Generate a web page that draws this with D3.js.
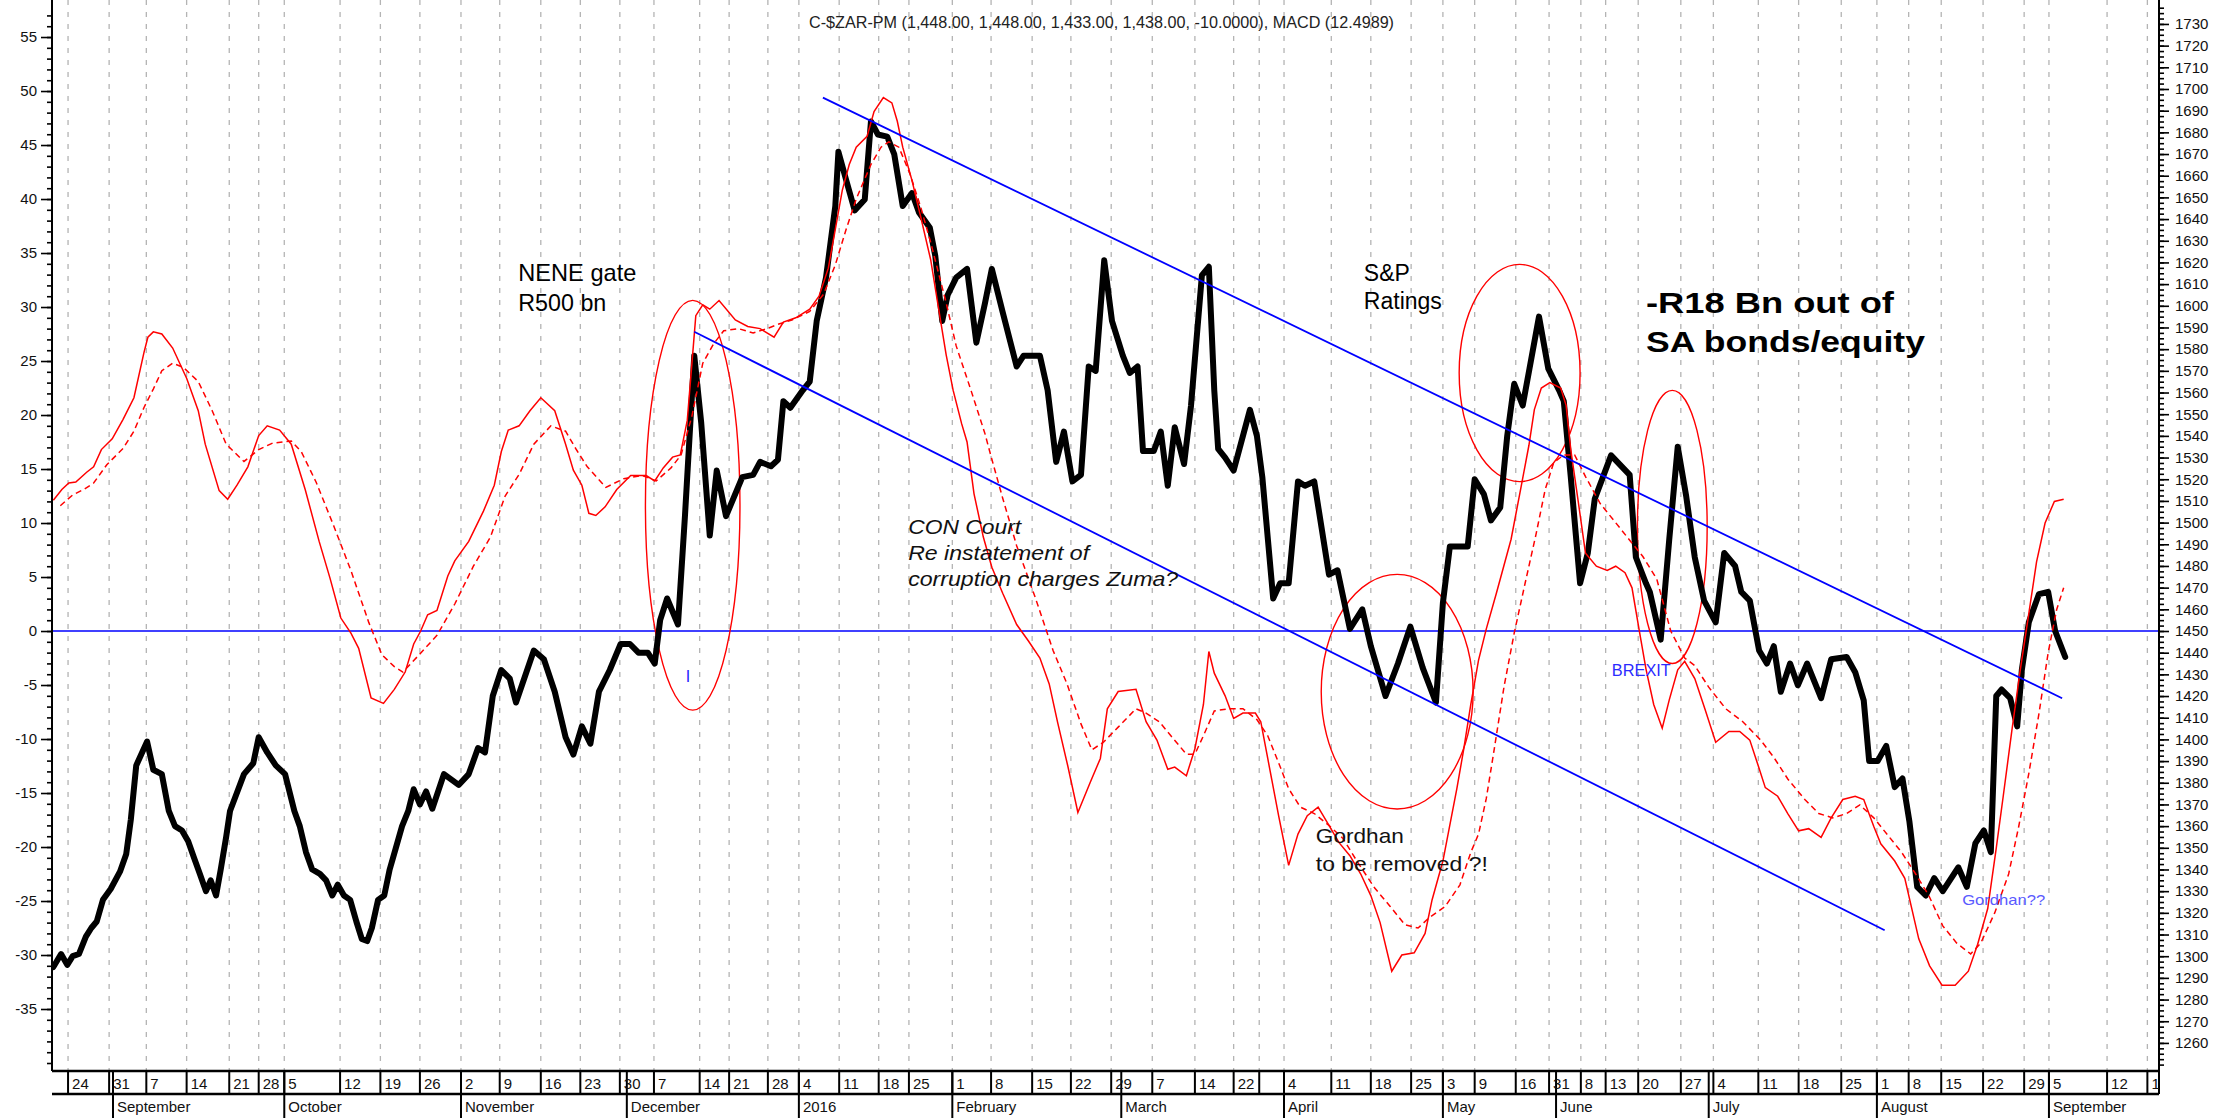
<!DOCTYPE html>
<html>
<head>
<meta charset="utf-8">
<script src="https://cdn.jsdelivr.net/npm/d3@7"></script>
<style>
  html, body { margin: 0; padding: 0; background: #fff; }
  svg { display: block; font-family: "Liberation Sans", Arial, sans-serif; }
</style>
</head>
<body>
<div id="chart"></div>
<script>
// ---- data (x = trading-bar index) ----

const weekLabels = ["24","31","7","14","21","28","5","12","19","26","2","9","16","23","30","7","14","21","28",
  "4","11","18","25","1","8","15","22","29","7","14","22","","4","11","18","25","3","9","16","31",
  "8","13","20","27","4","11","18","25","1","8","15","22","29","5","12","19"];
const weekBars = [2.2,7.5,12.3,17.5,23.0,26.8,30.1,37.3,42.5,47.6,52.9,57.9,63.2,68.3,73.4,77.8,83.7,87.5,92.5,
  96.5,101.7,106.8,110.7,116.3,121.3,126.6,131.6,136.8,142.1,147.6,152.6,155.9,159.1,165.2,170.3,175.5,179.6,183.7,189.0,193.3,
  197.4,200.6,204.8,210.3,214.5,220.3,225.5,231.0,235.6,239.7,243.9,249.3,254.6,257.8,265.3,270.5];

const monthLabels = ["September","October","November","December","2016","February","March","April","May","June","July","August","September"];
const monthBars = [8.0,30.1,52.9,74.3,96.5,116.3,138.1,159.1,179.6,194.2,213.9,235.6,257.8];

const macdTicks = d3.range(-35, 56, 5);
const priceTicks = d3.range(1260, 1731, 10);

// C-$ZAR-PM close (right axis)
const zarBars = [0.3,1.3,2.1,2.8,3.6,4.5,5.2,5.9,6.7,7.7,8.9,9.7,10.3,11.0,12.4,13.2,14.3,15.2,16.0,16.9,17.7,18.5,19.2,20.0,20.6,21.3,21.9,22.6,23.1,24.9,
  26.1,26.8,27.9,29.0,30.2,31.4,32.1,32.9,33.7,34.7,35.5,36.3,37.0,37.8,38.6,39.4,40.1,40.8,41.4,42.2,43.0,43.7,44.5,45.3,46.1,46.8,47.6,48.4,49.2,50.7,
  52.6,53.9,55.1,56.0,57.0,58.1,59.2,60.0,62.3,63.6,65.0,66.4,67.4,68.5,69.6,70.7,72.1,73.5,74.7,75.8,77.0,77.9,78.6,79.5,80.9,81.8,83.0,83.9,85.0,85.9,
  87.1,89.2,90.6,91.5,92.9,93.8,94.5,95.4,97.0,97.9,98.8,100.0,101.2,101.6,102.6,103.7,105.0,105.8,106.7,107.9,108.8,109.9,111.1,112.0,113.4,114.1,115.0,115.7,116.8,118.2,
  119.4,120.5,121.4,122.8,124.6,125.5,127.6,128.6,129.7,130.7,131.8,132.9,133.9,134.8,135.9,136.9,138.3,139.2,140.2,140.9,142.3,143.2,144.1,145.0,146.2,147.1,148.5,149.4,150.1,150.6,
  151.5,152.6,154.7,155.6,156.3,157.7,158.6,159.7,160.9,161.8,163.0,164.9,166.0,167.6,169.2,170.3,172.2,173.8,175.4,177.0,178.7,179.6,180.5,182.8,183.7,184.9,185.8,187.0,187.9,188.8,
  189.9,192.0,193.2,194.6,195.2,196.1,197.3,198.3,199.2,201.3,203.7,204.5,205.8,206.3,207.7,208.8,209.9,211.0,212.1,213.3,214.8,215.9,217.3,218.1,219.2,220.4,221.4,222.3,223.2,224.4,
  225.4,226.6,228.4,229.7,231.7,232.8,233.9,234.6,235.7,236.8,237.9,238.9,239.8,240.8,241.9,243.0,244.1,246.1,247.2,248.3,249.4,250.3,251.0,251.7,252.8,253.7,254.3,255.2,256.5,257.7,
  258.6,259.9];
const zarClose = [1295,1301,1296,1300,1301,1309,1313,1316,1326,1331,1339,1347,1363,1388,1399,1386,1384,1367,1360,1358,1353,1345,1338,1330,1335,1328,1340,1355,1367,1384,
  1389,1401,1394,1388,1384,1367,1360,1348,1340,1338,1335,1328,1333,1328,1326,1316,1308,1307,1313,1326,1328,1340,1350,1360,1367,1377,1370,1376,1368,1384,
  1379,1384,1396,1394,1420,1432,1428,1417,1441,1437,1422,1401,1393,1406,1398,1422,1432,1444,1444,1440,1440,1435,1455,1465,1453,1503,1577,1546,1494,1524,
  1503,1521,1522,1528,1526,1529,1556,1553,1561,1565,1593,1613,1646,1671,1658,1644,1649,1685,1679,1678,1670,1646,1652,1643,1636,1623,1593,1605,1613,1617,
  1583,1601,1617,1597,1572,1577,1577,1561,1528,1542,1519,1522,1572,1570,1621,1593,1577,1569,1572,1533,1533,1542,1517,1544,1527,1554,1614,1618,1561,1534,
  1530,1524,1552,1540,1521,1465,1472,1472,1519,1517,1519,1476,1478,1451,1460,1443,1420,1435,1452,1433,1417,1463,1489,1489,1520,1513,1501,1507,1540,1564,
  1554,1595,1571,1561,1556,1521,1472,1486,1511,1531,1522,1484,1472,1468,1446,1492,1535,1512,1484,1464,1454,1486,1480,1468,1464,1441,1435,1443,1422,1435,
  1425,1435,1419,1437,1438,1431,1418,1390,1390,1397,1378,1382,1362,1332,1328,1336,1330,1341,1332,1352,1358,1348,1420,1423,1419,1406,1432,1454,1467,1468,
  1450,1438];

// MACD line (left axis)
const macdBars = [0.3,1.4,2.3,3.2,4.6,5.5,6.5,7.9,9.3,10.7,12.0,12.5,13.2,14.3,15.7,17.5,19.0,19.9,21.7,22.8,24.0,25.4,26.8,27.9,29.5,31.0,32.8,34.6,36.0,37.4,
  38.7,39.7,41.3,42.9,44.3,45.7,46.8,47.7,48.6,49.8,51.2,52.1,53.9,55.8,57.2,58.1,59.0,60.4,61.8,63.2,65.0,66.4,67.4,68.5,69.4,70.3,71.5,73.0,74.8,76.8,
  77.9,79.0,80.2,81.2,82.1,83.2,84.1,85.0,86.2,88.3,89.9,91.5,93.3,94.5,96.1,97.9,99.1,100.3,101.2,102.1,103.0,103.9,105.3,106.2,107.4,108.5,109.2,109.9,111.1,112.3,
  113.5,114.5,115.5,116.4,117.5,118.2,119.1,120.3,121.4,122.8,124.6,126.1,127.6,128.8,129.9,131.2,132.5,134.1,135.4,136.3,137.7,140.0,141.3,142.7,144.1,145.0,146.5,147.6,148.7,149.4,
  150.1,151.5,152.6,153.8,155.4,156.1,157.0,158.4,159.7,160.9,162.1,163.5,164.9,166.2,167.6,169.0,170.3,171.5,173.0,174.3,175.9,177.3,178.2,179.6,181.4,182.3,183.2,184.2,185.2,186.5,
  188.4,189.7,190.7,191.4,192.3,193.4,194.8,195.5,196.1,197.1,198.0,199.4,200.8,201.9,203.1,204.0,204.9,205.8,206.8,207.9,208.8,209.9,210.8,212.1,213.4,214.8,216.5,217.9,219.2,220.3,
  221.2,222.8,224.1,225.5,226.8,228.4,229.7,231.2,232.8,233.9,235.2,236.1,237.9,239.2,240.1,241.0,242.4,244.0,245.7,247.4,248.6,249.9,251.0,251.9,253.0,254.1,255.2,256.2,257.3,258.5,
  259.7];
const macdValues = [12.1,13.1,13.7,13.8,14.7,15.2,16.8,17.8,19.6,21.6,25.8,27.2,27.7,27.5,26.2,23.4,20.4,17.3,13.0,12.2,13.5,15.2,18.1,19.0,18.6,17.3,13.1,8.3,4.9,1.2,
  -0.2,-1.6,-6.2,-6.7,-5.4,-3.8,-1.2,0.0,1.5,1.9,5.1,6.5,8.3,11.1,13.5,16.6,18.6,19.0,20.4,21.6,20.4,17.3,14.9,13.5,10.9,10.7,11.5,13.1,14.4,14.4,
  13.9,15.1,16.1,16.3,19.5,29.2,30.2,29.8,30.6,28.8,28.2,28.0,27.2,28.6,29.0,29.8,31.0,33.6,37.2,40.8,43.2,44.8,45.8,48.1,49.4,48.9,47.2,44.8,41.7,38.1,
  34.4,30.0,25.6,22.3,19.2,17.5,12.7,8.7,5.9,3.5,0.6,-0.9,-2.5,-4.9,-8.5,-12.5,-16.8,-14.0,-11.8,-7.2,-5.6,-5.4,-8.4,-10.1,-12.8,-12.6,-13.4,-10.9,-6.8,-1.9,
  -3.9,-6.0,-8.1,-7.6,-7.6,-8.4,-11.8,-17.1,-21.7,-18.8,-17.1,-16.3,-18.0,-19.6,-20.8,-22.5,-24.5,-27.0,-31.5,-30.0,-29.8,-28.0,-24.9,-21.3,-14.6,-10.9,-6.8,-2.7,0.2,3.5,
  8.5,13.4,17.2,20.5,22.5,23.0,22.5,20.9,16.8,11.8,7.2,6.0,5.6,6.0,5.4,4.0,0.2,-3.5,-6.8,-9.0,-6.4,-3.6,-2.8,-4.4,-7.2,-10.3,-9.3,-9.3,-10.1,-12.5,
  -14.5,-15.3,-16.9,-18.5,-18.3,-19.1,-17.3,-15.6,-15.3,-15.6,-18.1,-19.7,-21.3,-22.9,-25.7,-28.5,-31.0,-32.8,-32.8,-31.5,-29.0,-25.7,-20.1,-15.3,-9.3,-3.6,1.6,6.4,10.0,12.0,
  12.2];

// signal line (dashed)
const signalBars = [1.2,2.8,4.2,5.5,7.2,9.3,10.7,12.0,13.2,14.3,15.7,17.1,19.0,20.8,22.6,24.9,26.8,28.6,31.0,32.3,34.2,36.5,38.7,41.0,42.7,44.3,45.4,47.5,49.8,52.1,
  54.5,56.7,58.6,60.4,62.3,64.5,66.4,67.7,69.2,71.6,73.9,76.3,78.1,80.0,81.3,82.7,84.1,85.5,86.8,88.7,90.6,92.4,93.8,95.6,97.9,99.7,101.2,102.6,103.9,105.8,
  107.1,108.1,109.4,110.8,112.2,113.5,115.5,116.8,118.7,120.5,121.4,122.8,124.6,127.0,129.3,131.1,132.9,134.3,135.8,137.7,140.0,141.3,143.0,144.5,146.5,147.6,148.7,150.1,151.9,153.8,
  155.6,157.0,158.4,159.7,161.2,163.0,164.9,166.7,168.5,170.8,172.8,174.7,176.4,177.9,179.9,181.8,183.2,184.2,185.2,186.1,187.5,188.8,190.2,191.6,192.8,193.9,195.2,196.6,198.0,199.9,
  201.7,203.6,205.4,207.2,209.0,210.8,212.1,213.9,216.1,218.3,220.6,222.3,224.1,226.3,228.1,229.9,231.7,233.4,235.2,237.0,238.8,240.6,242.3,244.1,245.9,247.7,249.0,250.8,252.6,253.9,
  255.2,256.5,257.7,258.8,259.7];
const signalValues = [11.6,12.6,13.1,13.7,15.4,16.9,18.5,20.7,22.4,24.1,24.8,24.4,23.1,20.4,17.3,15.7,16.8,17.4,17.6,16.6,13.8,9.7,5.6,0.8,-2.2,-3.3,-3.8,-2.2,-0.4,2.5,
  6.0,8.7,12.5,14.5,17.3,19.0,18.5,16.9,15.2,13.3,14.1,14.4,13.9,15.1,16.3,19.9,24.8,26.6,27.8,28.0,27.6,28.0,28.4,28.8,29.6,31.2,33.9,37.2,40.0,43.2,
  44.8,45.3,44.8,42.4,39.3,36.0,30.4,26.4,22.3,18.3,15.9,12.3,7.9,3.1,-1.8,-4.9,-8.6,-11.0,-10.3,-8.9,-7.2,-7.6,-8.4,-9.7,-11.4,-11.4,-9.7,-7.4,-7.2,-7.2,
  -8.2,-9.7,-12.2,-14.6,-16.3,-16.9,-18.0,-19.2,-21.3,-23.8,-25.5,-27.2,-27.5,-26.5,-25.5,-23.5,-20.5,-18.8,-15.5,-11.5,-5.1,-0.2,4.4,8.9,13.1,15.6,16.3,16.3,14.3,11.8,
  10.2,8.5,6.9,4.8,0.0,-2.5,-3.2,-5.2,-7.2,-8.4,-10.1,-11.7,-13.7,-15.6,-16.9,-17.3,-16.9,-16.1,-17.3,-18.9,-20.5,-22.5,-24.5,-27.3,-28.9,-29.9,-28.9,-26.1,-22.5,-18.1,
  -13.2,-7.7,-2.0,2.0,4.0];

// hand-drawn trend channel (price units)
const upperChannelBars = [99.6, 259.5];
const upperChannelPrices = [1696, 1419];
const lowerChannelBars = [83.0, 236.6];
const lowerChannelPrices = [1588, 1312];

// red ellipses drawn on the chart (centre and radii in bars / price)
const ellipseBars = [82.8, 189.5, 173.7, 209.2];
const ellipsePrices = [1508, 1569, 1422, 1498];
const ellipseBarRadius = [6.1, 7.8, 9.8, 4.5];
const ellipsePriceRadius = [94.5, 50.1, 54.1, 63];

// annotation text, anchored at (bar, price) of first baseline
const noteLines = [["NENE gate", "R500 bn"], ["S&P", "Ratings"], ["-R18 Bn out of", "SA bonds/equity"],
  ["CON Court", "Re instatement of", "corruption charges  Zuma?"], ["Gordhan", "to be removed ?!"],
  ["BREXIT"], ["Gordhan??"], ["I"]];
const noteBars = [60.3, 169.4, 205.8, 110.6, 163.2, 201.4, 246.6, 81.9];
const notePrices = [1611.4, 1611.4, 1596.7, 1494.7, 1352.2, 1429.2, 1323.6, 1426.5];

const titleText = "C-$ZAR-PM (1,448.00, 1,448.00, 1,433.00, 1,438.00, -10.0000), MACD (12.4989)";

// ---- layout / styles ----
const W = 2239, H = 1118;
const plotL = 52, plotR = 2159, plotB = 1071, rowB = 1094;

const noteStyle = [
  {size: 24, gap: 30, fill: "#000", widths: [118, 88]},
  {size: 23, gap: 28, fill: "#000", widths: [46, 78]},
  {size: 30, gap: 39, fill: "#000", weight: "bold", widths: [248, 279]},
  {size: 21, gap: 26, fill: "#111", italic: true, widths: [113, 181, 270]},
  {size: 21, gap: 28, fill: "#111", widths: [88, 172]},
  {size: 16, gap: 0, fill: "#2b2bff", widths: [59]},
  {size: 15, gap: 0, fill: "#5a5aff", widths: [83]},
  {size: 16, gap: 0, fill: "#2222ff", widths: [null]}
];

const svg = d3.select("#chart").append("svg")
    .attr("width", W)
    .attr("height", H);

const x = d3.scaleLinear().domain([0, 272]).range([51, plotR]);
const yMacd = d3.scaleLinear().domain([-40.74, 57.78]).range([plotB, 7]);
const yPrice = d3.scaleLinear().domain([1247.05, 1737.82]).range([plotB, 7]);

svg.append("defs").append("clipPath").attr("id", "plotClip")
    .append("rect").attr("x", plotL).attr("y", 0).attr("width", plotR - plotL).attr("height", plotB);
svg.select("defs").append("clipPath").attr("id", "rowClip")
    .append("rect").attr("x", plotL).attr("y", plotB).attr("width", plotR - plotL).attr("height", H - plotB);

// vertical dashed grid
svg.append("g")
    .selectAll("line")
    .data(weekBars)
    .enter().append("line")
    .attr("x1", d => x(d)).attr("x2", d => x(d))
    .attr("y1", 0).attr("y2", plotB)
    .attr("stroke", "#b4b4b4")
    .attr("stroke-width", 1.3)
    .attr("stroke-dasharray", "5,7");

const plot = svg.append("g").attr("clip-path", "url(#plotClip)");

// zero line
plot.append("line")
    .attr("x1", plotL).attr("x2", plotR)
    .attr("y1", yMacd(0)).attr("y2", yMacd(0))
    .attr("stroke", "#0000ff").attr("stroke-width", 1.6);

// ellipses
plot.append("g")
    .selectAll("ellipse")
    .data(d3.range(ellipseBars.length))
    .enter().append("ellipse")
    .attr("cx", i => x(ellipseBars[i]))
    .attr("cy", i => yPrice(ellipsePrices[i]))
    .attr("rx", i => x(ellipseBarRadius[i]) - x(0))
    .attr("ry", i => yPrice(1450) - yPrice(1450 + ellipsePriceRadius[i]))
    .attr("fill", "none")
    .attr("stroke", "#ff0000")
    .attr("stroke-width", 1.4);

// price line
const priceLine = d3.line().x(d => x(d[0])).y(d => yPrice(d[1]));
plot.append("path")
    .datum(d3.zip(zarBars, zarClose))
    .attr("d", priceLine)
    .attr("fill", "none")
    .attr("stroke", "#000")
    .attr("stroke-width", 6)
    .attr("stroke-linejoin", "round")
    .attr("stroke-linecap", "round");

// macd + signal
const macdLine = d3.line().x(d => x(d[0])).y(d => yMacd(d[1]));
plot.append("path")
    .datum(d3.zip(macdBars, macdValues))
    .attr("d", macdLine)
    .attr("fill", "none")
    .attr("stroke", "#ff0000")
    .attr("stroke-width", 1.5);

plot.append("path")
    .datum(d3.zip(signalBars, signalValues))
    .attr("d", macdLine)
    .attr("fill", "none")
    .attr("stroke", "#ff0000")
    .attr("stroke-width", 1.5)
    .attr("stroke-dasharray", "6,4");

// channel lines
[[upperChannelBars, upperChannelPrices], [lowerChannelBars, lowerChannelPrices]].forEach(c => {
    plot.append("path")
        .datum(d3.zip(c[0], c[1]))
        .attr("d", priceLine)
        .attr("fill", "none")
        .attr("stroke", "#0000ff")
        .attr("stroke-width", 1.8);
});

// annotations
noteLines.forEach((lines, i) => {
    const st = noteStyle[i];
    const t = svg.append("text")
        .attr("x", x(noteBars[i]))
        .attr("y", yPrice(notePrices[i]))
        .attr("fill", st.fill)
        .style("font-size", st.size + "px")
        .style("font-weight", st.weight || "normal")
        .style("font-style", st.italic ? "italic" : "normal");
    lines.forEach((s, k) => {
        const ts = t.append("tspan")
            .attr("x", x(noteBars[i]))
            .attr("y", yPrice(notePrices[i]) + k * st.gap)
            .text(s);
        if (st.widths[k]) ts.attr("textLength", st.widths[k]).attr("lengthAdjust", "spacingAndGlyphs");
    });
});

// title
svg.append("text")
    .attr("x", 809).attr("y", 28)
    .attr("fill", "#222")
    .style("font-size", "16px")
    .attr("textLength", 585)
    .attr("lengthAdjust", "spacingAndGlyphs")
    .text(titleText);

// left axis
const leftMinor = svg.append("g").attr("transform", `translate(${plotL},0)`)
    .call(d3.axisLeft(yMacd).tickValues(d3.range(-40, 58, 1)).tickSize(5).tickSizeOuter(0).tickFormat(""));
const leftMajor = svg.append("g").attr("transform", `translate(${plotL},0)`)
    .call(d3.axisLeft(yMacd).tickValues(macdTicks).tickSize(11).tickSizeOuter(0).tickPadding(4).tickFormat(d => String(d)));

// right axis
const rightMinor = svg.append("g").attr("transform", `translate(${plotR},0)`)
    .call(d3.axisRight(yPrice).tickValues(d3.range(1250, 1737.6, 2.5)).tickSize(5).tickSizeOuter(0).tickFormat(""));
const rightMajor = svg.append("g").attr("transform", `translate(${plotR},0)`)
    .call(d3.axisRight(yPrice).tickValues(priceTicks).tickSize(10).tickSizeOuter(0).tickPadding(6).tickFormat(d => String(d)));

[leftMinor, leftMajor, rightMinor, rightMajor].forEach(g => {
    g.select(".domain").remove();
    g.selectAll(".tick line").attr("stroke", "#000").attr("stroke-width", 1.6);
    g.selectAll("text").attr("fill", "#111").style("font-size", "15px").style("font-family", "\"Liberation Sans\", Arial, sans-serif");
});

// axis frame lines
svg.append("line").attr("x1", plotL).attr("x2", plotL).attr("y1", 0).attr("y2", plotB)
    .attr("stroke", "#000").attr("stroke-width", 2);
svg.append("line").attr("x1", plotR).attr("x2", plotR).attr("y1", 0).attr("y2", rowB)
    .attr("stroke", "#000").attr("stroke-width", 2);

// date strip
const strip = svg.append("g");
strip.append("line").attr("x1", plotL).attr("x2", plotR).attr("y1", plotB).attr("y2", plotB)
    .attr("stroke", "#000").attr("stroke-width", 2.5);
strip.append("line").attr("x1", plotL).attr("x2", plotR).attr("y1", rowB).attr("y2", rowB)
    .attr("stroke", "#000").attr("stroke-width", 2.5);

strip.selectAll(".wk")
    .data(weekBars)
    .enter().append("line")
    .attr("class", "wk")
    .attr("x1", d => x(d)).attr("x2", d => x(d))
    .attr("y1", plotB).attr("y2", rowB)
    .attr("stroke", "#000").attr("stroke-width", 2);

strip.selectAll(".mo")
    .data(monthBars)
    .enter().append("line")
    .attr("class", "mo")
    .attr("x1", d => x(d)).attr("x2", d => x(d))
    .attr("y1", plotB).attr("y2", H)
    .attr("stroke", "#000").attr("stroke-width", 2);

const stripText = strip.append("g").attr("clip-path", "url(#rowClip)")
    .style("font-size", "15px").attr("fill", "#111");

stripText.selectAll(".wkl")
    .data(weekLabels)
    .enter().append("text")
    .attr("x", (d, i) => x(weekBars[i]) + 4)
    .attr("y", 1089)
    .text(d => d);

stripText.selectAll(".mol")
    .data(monthLabels)
    .enter().append("text")
    .attr("x", (d, i) => x(monthBars[i]) + 4)
    .attr("y", 1112)
    .text(d => d);
</script>
</body>
</html>
